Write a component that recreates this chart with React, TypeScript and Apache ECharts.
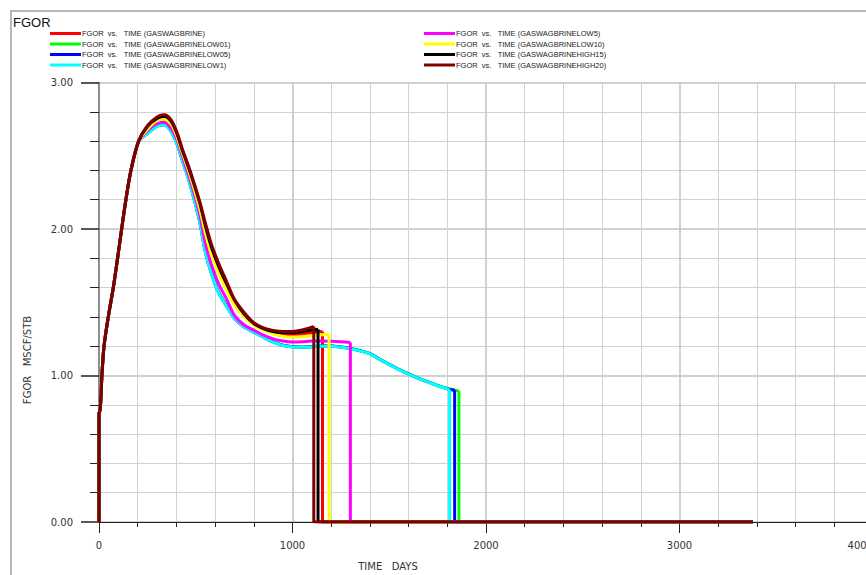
import React, { useEffect, useRef } from "react";
import * as echarts from "echarts";

// ---- data ----
const RISE_DAYS = [0, 5, 10, 15, 26, 48, 74, 96, 117, 139, 165, 205];
const RISE_FGOR = [0.75, 0.76, 0.85, 1.0, 1.2, 1.4, 1.6, 1.8, 2.0, 2.2, 2.4, 2.6];

const MID_DAYS = [250, 300, 337, 370, 400, 430, 460, 490, 520, 550, 580, 620, 660, 700, 750, 800, 850, 900, 950, 1000, 1050, 1100];

const BRINE_MID = [2.69, 2.75, 2.76, 2.73, 2.65, 2.53, 2.42, 2.3, 2.16, 2.0, 1.86, 1.72, 1.61, 1.5, 1.41, 1.35, 1.315, 1.29, 1.28, 1.278, 1.283, 1.292];
const LOW01_MID = [2.655, 2.705, 2.712, 2.675, 2.595, 2.475, 2.355, 2.215, 2.055, 1.845, 1.705, 1.565, 1.475, 1.393, 1.332, 1.297, 1.262, 1.23, 1.207, 1.197, 1.194, 1.197];
const LOW05_MID = [2.652, 2.702, 2.711, 2.672, 2.592, 2.472, 2.352, 2.212, 2.052, 1.842, 1.702, 1.562, 1.472, 1.391, 1.331, 1.296, 1.261, 1.229, 1.206, 1.196, 1.193, 1.196];
const LOW1_MID = [2.65, 2.7, 2.71, 2.67, 2.59, 2.47, 2.35, 2.21, 2.05, 1.84, 1.7, 1.56, 1.47, 1.39, 1.33, 1.295, 1.26, 1.228, 1.205, 1.195, 1.192, 1.195];
const LOW5_MID = [2.67, 2.72, 2.73, 2.69, 2.62, 2.5, 2.38, 2.25, 2.1, 1.9, 1.76, 1.62, 1.52, 1.41, 1.345, 1.31, 1.275, 1.25, 1.235, 1.228, 1.23, 1.235];
const LOW10_MID = [2.68, 2.74, 2.75, 2.72, 2.64, 2.52, 2.41, 2.28, 2.14, 1.97, 1.83, 1.69, 1.58, 1.48, 1.4, 1.345, 1.31, 1.285, 1.268, 1.262, 1.265, 1.272];
const HIGH15_MID = [2.7, 2.755, 2.77, 2.74, 2.66, 2.54, 2.43, 2.31, 2.18, 2.02, 1.88, 1.74, 1.625, 1.515, 1.42, 1.355, 1.32, 1.3, 1.292, 1.292, 1.3, 1.31];
const HIGH20_MID = [2.705, 2.765, 2.78, 2.75, 2.67, 2.55, 2.44, 2.32, 2.19, 2.04, 1.9, 1.76, 1.64, 1.52, 1.43, 1.36, 1.325, 1.308, 1.3, 1.3, 1.31, 1.33];

const LATE_DAYS = [1150, 1200, 1250, 1300, 1350, 1400, 1450, 1500, 1550, 1600, 1650, 1700, 1750, 1800];
const LOW01_LATE = [1.202, 1.202, 1.195, 1.185, 1.17, 1.15, 1.112, 1.077, 1.042, 1.012, 0.982, 0.957, 0.932, 0.911];
const LOW05_LATE = [1.201, 1.201, 1.194, 1.184, 1.169, 1.149, 1.111, 1.076, 1.041, 1.011, 0.981, 0.956, 0.931, 0.91];
const LOW1_LATE = [1.2, 1.2, 1.193, 1.183, 1.168, 1.148, 1.11, 1.075, 1.04, 1.01, 0.98, 0.955, 0.93, 0.909];
const LOW5_LATE_DAYS = [1150, 1200, 1250];
const LOW5_LATE = [1.235, 1.233, 1.23];
const LOW10_LATE_DAYS = [1150];
const LOW10_LATE = [1.278];

// first day opens at 0 -> 0.75; last producing day and value, then shut-in at 0
const START_FGOR = [0, 0.75];
const END_DAYS = { brine: 1155, low01: 1860, low05: 1838, low1: 1812, low5: 1299, low10: 1189, high15: 1132, high20: 1110 };
const END_FGOR = { brine: 1.3, low01: 0.895, low05: 0.9, low1: 0.905, low5: 1.225, low10: 1.28, high15: 1.315, high20: 1.335 };
const LAST_DAY = 3380;

const SERIES_KEYS = ["brine", "low01", "low05", "low1", "low5", "low10", "high15", "high20"];
const SERIES_NAMES = [
  "GASWAGBRINE",
  "GASWAGBRINELOW01",
  "GASWAGBRINELOW05",
  "GASWAGBRINELOW1",
  "GASWAGBRINELOW5",
  "GASWAGBRINELOW10",
  "GASWAGBRINEHIGH15",
  "GASWAGBRINEHIGH20",
];
const SERIES_COLORS = ["#ff0000", "#00ff00", "#0000ff", "#00ffff", "#ff00ff", "#ffff00", "#000000", "#800000"];

const X_TICKS = [0, 1000, 2000, 3000, 4000];
const Y_TICKS = [0, 1, 2, 3];

function buildCurve(mid: number[], lateDays: number[], late: number[], key: string): number[][] {
  const ed = (END_DAYS as any)[key];
  const pts: number[][] = [];
  RISE_DAYS.forEach((d, i) => pts.push([d, RISE_FGOR[i]]));
  MID_DAYS.forEach((d, i) => {
    if (d < ed) pts.push([d, mid[i]]);
  });
  lateDays.forEach((d, i) => {
    if (d < ed) pts.push([d, late[i]]);
  });
  pts.push([ed, (END_FGOR as any)[key]]);
  return pts;
}
function buildShutIn(key: string): number[][] {
  const ed = (END_DAYS as any)[key];
  return [
    [ed, (END_FGOR as any)[key]],
    [ed, 0],
    [LAST_DAY, 0],
  ];
}

const CURVES = [
  buildCurve(BRINE_MID, [], [], "brine"),
  buildCurve(LOW01_MID, LATE_DAYS, LOW01_LATE, "low01"),
  buildCurve(LOW05_MID, LATE_DAYS, LOW05_LATE, "low05"),
  buildCurve(LOW1_MID, LATE_DAYS, LOW1_LATE, "low1"),
  buildCurve(LOW5_MID, LOW5_LATE_DAYS, LOW5_LATE, "low5"),
  buildCurve(LOW10_MID, LOW10_LATE_DAYS, LOW10_LATE, "low10"),
  buildCurve(HIGH15_MID, [], [], "high15"),
  buildCurve(HIGH20_MID, [], [], "high20"),
];

const NB = "\u00a0";

export default function App() {
  const ref = useRef<HTMLDivElement>(null);

  useEffect(() => {
    if (!ref.current) return;
    const chart = echarts.init(ref.current, undefined, { renderer: "svg" });

    const legendRows = [33.5, 44, 54.5, 65];
    const graphics: any[] = [
      {
        type: "rect",
        silent: true,
        shape: { x: 11, y: 11, width: 950, height: 650 },
        style: { fill: "none", stroke: "#a0a0a0", lineWidth: 1.5 },
        z: 0,
      },
      {
        type: "text",
        x: 13,
        y: 22,
        style: {
          text: "FGOR",
          font: '13px "Liberation Sans"',
          fill: "#111",
          textAlign: "left",
          textVerticalAlign: "middle",
          align: "left",
          verticalAlign: "middle",
        },
      },
      {
        type: "text",
        x: 27,
        y: 360,
        rotation: Math.PI / 2,
        style: {
          text: "FGOR" + NB + NB + NB + "MSCF/STB",
          font: '10px "DejaVu Sans"',
          fill: "#333",
          textAlign: "center",
          textVerticalAlign: "middle",
          align: "center",
          verticalAlign: "middle",
        },
      },
      {
        type: "text",
        x: 388,
        y: 566,
        style: {
          text: "TIME" + NB + NB + NB + "DAYS",
          font: '10px "DejaVu Sans"',
          fill: "#333",
          textAlign: "center",
          textVerticalAlign: "middle",
          align: "center",
          verticalAlign: "middle",
        },
      },
    ];
    SERIES_NAMES.forEach((name, i) => {
      const col = i < 4 ? 0 : 1;
      const row = i % 4;
      const x1 = col === 0 ? 50 : 424;
      const y = legendRows[row];
      graphics.push({
        type: "line",
        silent: true,
        shape: { x1, y1: y, x2: x1 + 31, y2: y },
        style: { stroke: SERIES_COLORS[i], lineWidth: 3 },
      });
      graphics.push({
        type: "text",
        x: x1 + 32,
        y: y,
        style: {
          text: "FGOR" + NB + NB + "vs." + NB + NB + NB + "TIME (" + name + ")",
          font: '7.5px "Liberation Sans"',
          fill: "#222",
          textAlign: "left",
          textVerticalAlign: "middle",
          align: "left",
          verticalAlign: "middle",
        },
      });
    });

    const labelStyle = { fontFamily: "DejaVu Sans", fontSize: 10, color: "#333" };

    const series: any[] = [];
    SERIES_NAMES.forEach((name, i) => {
      series.push({
        name: "FGOR vs. TIME (" + name + ") start",
        type: "line",
        data: START_FGOR.map((v) => [0, v]),
        showSymbol: false,
        symbol: "none",
        color: SERIES_COLORS[i],
        lineStyle: { color: SERIES_COLORS[i], width: 3 },
        emphasis: { disabled: true },
      });
      series.push({
        name: "FGOR vs. TIME (" + name + ")",
        type: "line",
        data: CURVES[i],
        showSymbol: false,
        symbol: "none",
        smooth: 0.3,
        color: SERIES_COLORS[i],
        lineStyle: { color: SERIES_COLORS[i], width: 3, join: "round" },
        emphasis: { disabled: true },
      });
      series.push({
        name: "FGOR vs. TIME (" + name + ") shut-in",
        type: "line",
        data: buildShutIn(SERIES_KEYS[i]),
        showSymbol: false,
        symbol: "none",
        smooth: false,
        color: SERIES_COLORS[i],
        lineStyle: { color: SERIES_COLORS[i], width: 3 },
        emphasis: { disabled: true },
      });
    });

    chart.setOption({
      animation: false,
      backgroundColor: "#ffffff",
      grid: { left: 99, top: 82.5, width: 774, bottom: 53, containLabel: false },
      xAxis: {
        type: "value",
        min: X_TICKS[0],
        max: X_TICKS[X_TICKS.length - 1],
        interval: X_TICKS[1] - X_TICKS[0],
        axisLine: { show: true, onZero: false, lineStyle: { color: "#222", width: 1 } },
        axisTick: { show: true, length: 11, lineStyle: { color: "#222", width: 1 } },
        minorTick: { show: true, splitNumber: 5, length: 5, lineStyle: { color: "#222", width: 1 } },
        axisLabel: { ...labelStyle, margin: 18, alignMaxLabel: "right", formatter: (v: number) => String(v) },
        splitLine: { show: true, lineStyle: { color: "#c2c2c2", width: 1.5 } },
        minorSplitLine: { show: true, lineStyle: { color: "#d2d2d2", width: 1 } },
      },
      yAxis: {
        type: "value",
        min: Y_TICKS[0],
        max: Y_TICKS[Y_TICKS.length - 1],
        interval: Y_TICKS[1] - Y_TICKS[0],
        axisLine: { show: true, onZero: false, lineStyle: { color: "#777", width: 1.5 } },
        axisTick: { show: true, length: 18, lineStyle: { color: "#222", width: 1.5 } },
        minorTick: { show: true, splitNumber: 5, length: 9, lineStyle: { color: "#222", width: 1 } },
        axisLabel: { ...labelStyle, margin: 26, formatter: (v: number) => v.toFixed(2) },
        splitLine: { show: true, lineStyle: { color: "#c2c2c2", width: 1.5 } },
        minorSplitLine: { show: true, lineStyle: { color: "#d2d2d2", width: 1 } },
      },
      graphic: graphics,
      series,
    });

    return () => chart.dispose();
  }, []);

  return (
    <div
      style={{
        position: "fixed",
        left: 0,
        top: 0,
        width: 866,
        height: 575,
        overflow: "hidden",
        background: "#fff",
      }}
    >
      <div ref={ref} style={{ width: 900, height: 575 }} />
    </div>
  );
}
